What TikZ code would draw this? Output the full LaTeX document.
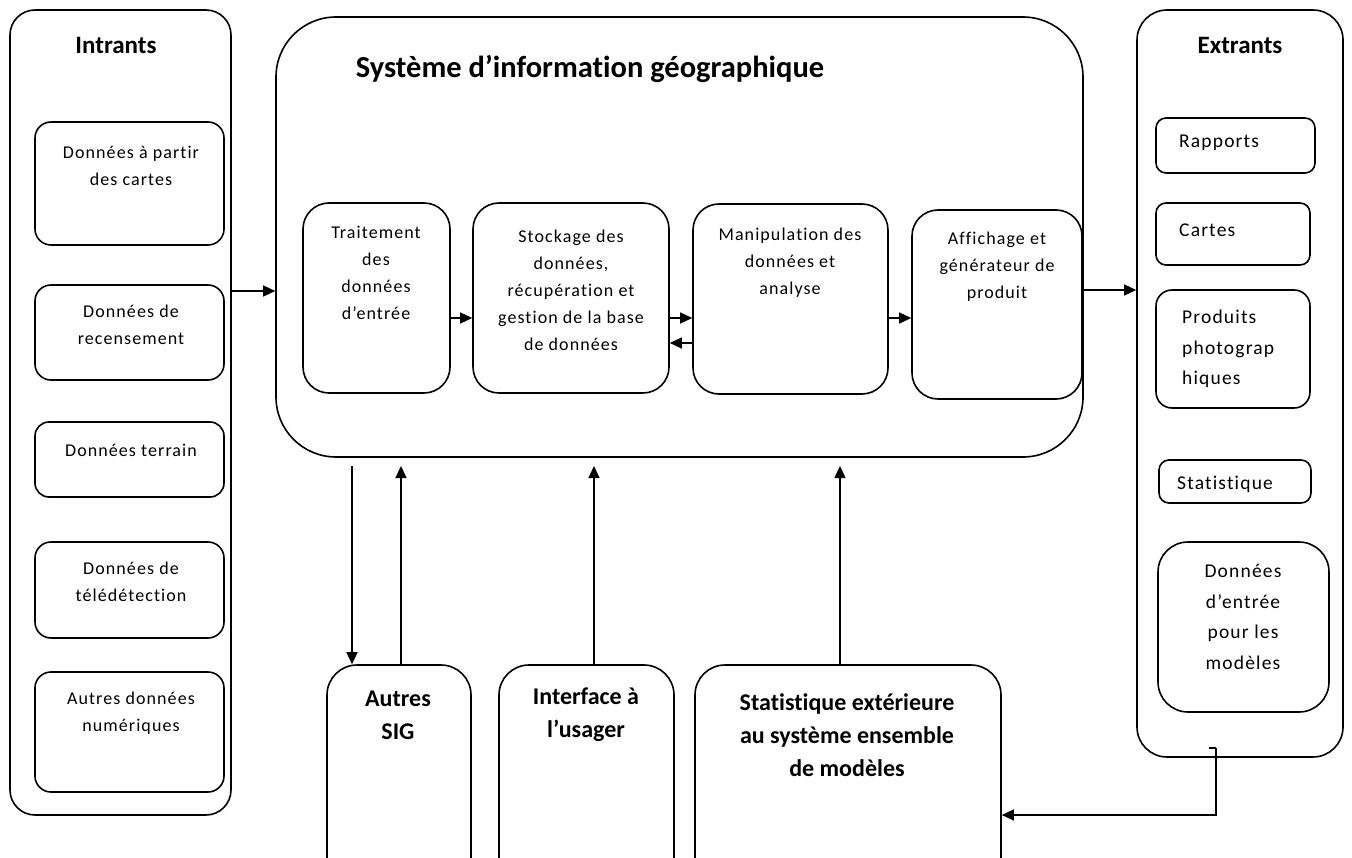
\documentclass[tikz,border=0pt]{standalone}
\usepackage{fontspec}
\setmainfont{Carlito}[Ligatures=NoCommon]
\newfontfamily\spacedfont{Carlito}[LetterSpace=6,Ligatures=NoCommon]
\usetikzlibrary{arrows.meta}
\tikzset{
  box/.style={draw, line width=1.6pt, inner sep=0pt, anchor=center},
  conn/.style={line width=1.3pt, -{Triangle[length=12pt,width=11pt]}},
  plain/.style={line width=1.3pt},
  smalltxt/.style={align=center, font=\spacedfont\fontsize{18}{27}\selectfont, inner sep=0pt},
  outtxt/.style={align=left, font=\spacedfont\fontsize{19.5}{30.5}\selectfont, inner sep=0pt},
  outctxt/.style={align=center, font=\spacedfont\fontsize{19.5}{30.5}\selectfont, inner sep=0pt},
  headtxt/.style={font=\bfseries\fontsize{25}{30}\selectfont, inner sep=0pt},
  titletxt/.style={font=\bfseries\fontsize{30.5}{36}\selectfont, inner sep=0pt},
  bottxt/.style={align=center, font=\bfseries\fontsize{24}{33}\selectfont, inner sep=0pt},
}
% \mkbox{name}{x1}{y1}{x2}{y2}{radius}
\newcommand{\mkbox}[6]{%
  \node[box, rounded corners=#6pt, minimum width={(#4-#2)*1pt}, minimum height={(#5-#3)*1pt}]
    (#1) at ({(#2+#4)/2},{(#3+#5)/2}) {};}
\begin{document}
\begin{tikzpicture}[x=1pt,y=-1pt]
\useasboundingbox (0,0) rectangle (1352,858);
\clip (0,0) rectangle (1352,858);
\fill[white] (0,0) rectangle (1352,858);

% ---------- Intrants ----------
\mkbox{intr}{10}{10}{231}{815}{25}
\node[headtxt] (intrT) at (116,45) {Intrants};
\mkbox{i1}{35}{122}{224}{245}{16}
\node[smalltxt] (i1t) at (131,166) {Données à partir\\des cartes};
\mkbox{i2}{35}{285}{224}{380}{16}
\node[smalltxt] (i2t) at (131,325) {Données de\\recensement};
\mkbox{i3}{35}{422}{224}{497}{14}
\node[smalltxt] (i3t) at (131,450) {Données terrain};
\mkbox{i4}{35}{542}{224}{638}{16}
\node[smalltxt] (i4t) at (131,582) {Données de\\télédétection};
\mkbox{i5}{35}{672}{224}{792}{16}
\node[smalltxt] (i5t) at (131,713) {Autres données\\numériques};

% ---------- SIG ----------
\mkbox{sig}{276}{17}{1083}{457}{60}
\node[titletxt] (sigT) at (590,69) {Système d’information géographique};
\mkbox{trait}{303}{203}{450}{393}{26}
\node[smalltxt] (traitT) at (376,273) {Traitement\\des\\données\\d’entrée};
\mkbox{stock}{473}{203}{669}{393}{26}
\node[smalltxt] (stockT) at (571,290) {Stockage des\\données,\\récupération et\\gestion de la base\\de données};
\mkbox{manip}{693}{204}{888}{394}{26}
\node[smalltxt] (manipT) at (790,263) {Manipulation des\\données et\\analyse};
\mkbox{aff}{912}{210}{1082}{399}{26}
\node[smalltxt] (affT) at (997,267) {Affichage et\\générateur de\\produit};

% ---------- Extrants ----------
\mkbox{extr}{1137}{10}{1343}{757}{30}
\node[headtxt] (extrT) at (1240,45) {Extrants};
\mkbox{e1}{1156}{118}{1315}{173}{10}
\node[outtxt, anchor=west] (e1t) at (1179,143) {Rapports};
\mkbox{e2}{1156}{203}{1310}{265}{10}
\node[outtxt, anchor=west] (e2t) at (1179,230) {Cartes};
\mkbox{e3}{1156}{290}{1310}{408}{16}
\node[outtxt, anchor=west] (e3t) at (1182,349) {Produits\\photograp\\hiques};
\mkbox{e4}{1159}{460}{1311}{503}{10}
\node[outtxt, anchor=west] (e4t) at (1177,484) {Statistique};
\mkbox{e5}{1158}{542}{1329}{712}{30}
\node[outctxt] (e5t) at (1243,617) {Données\\d’entrée\\pour les\\modèles};

% ---------- Bottom boxes ----------
\mkbox{autres}{327}{665}{471}{905}{30}
\node[bottxt] (autresT) at (398,715) {Autres\\SIG};
\mkbox{interf}{499}{665}{674}{905}{30}
\node[bottxt] (interfT) at (586,715) {Interface à\\l’usager};
\mkbox{stext}{695}{665}{1001}{905}{30}
\node[bottxt] (stextT) at (847,735) {Statistique extérieure\\au système ensemble\\de modèles};

% ---------- Connectors ----------
\draw[conn] (intr.east |- 0,291) -- (sig.west |- 0,291);
\draw[conn] (sig.east |- 0,290) -- (extr.west |- 0,290);
\draw[conn] (trait.east |- 0,318) -- (stock.west |- 0,318);
\draw[conn] (stock.east |- 0,318) -- (manip.west |- 0,318);
\draw[conn] (manip.west |- 0,343) -- (stock.east |- 0,343);
\draw[conn] (manip.east |- 0,318) -- (aff.west |- 0,318);

\coordinate (d1) at (352,466);
\coordinate (u1) at (401,466);
\coordinate (u2) at (594,466);
\coordinate (u3) at (840,466);
\draw[conn] (d1) -- (d1 |- autres.north);
\draw[conn] (u1 |- autres.north) -- (u1);
\draw[conn] (u2 |- interf.north) -- (u2);
\draw[conn] (u3 |- stext.north) -- (u3);

\coordinate (fbA) at (1209,748);
\coordinate (fbB) at (1216,748);
\coordinate (fbC) at (1216,815);
\draw[plain] (fbA) -- (fbB);
\draw[conn] (fbB) -- (fbC) -- (stext.east |- fbC);
\end{tikzpicture}
\end{document}
